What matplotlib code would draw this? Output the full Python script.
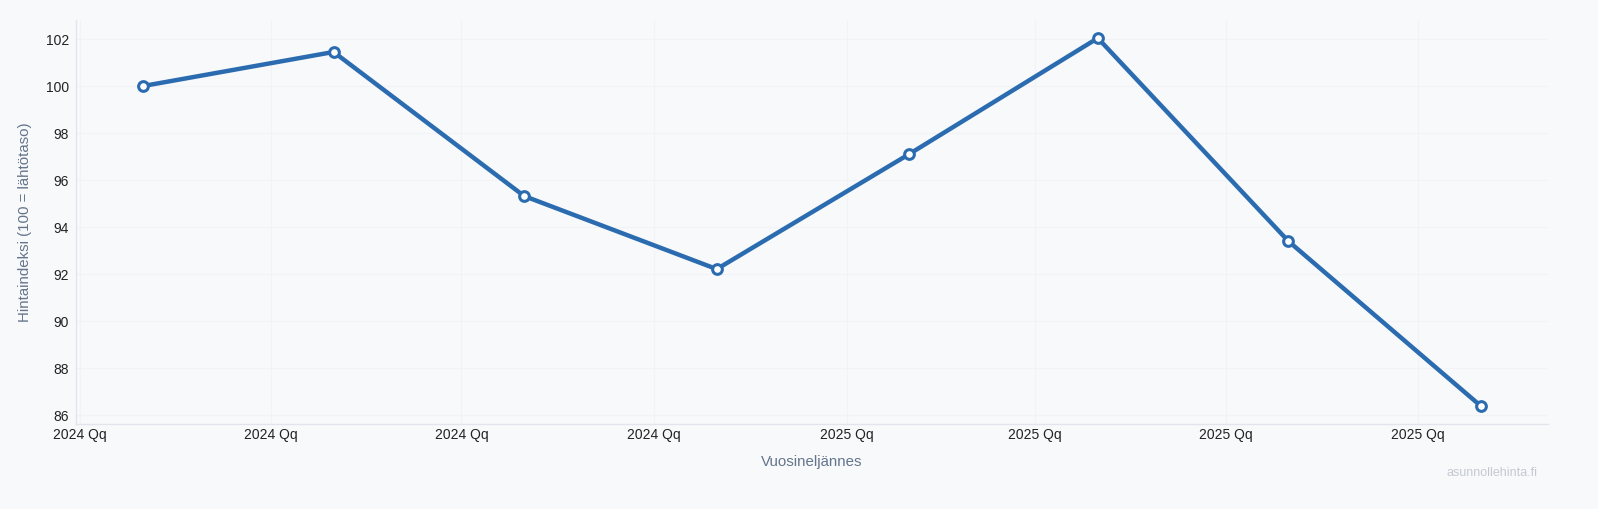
import datetime as dt
import matplotlib
matplotlib.use("Agg")
import matplotlib.pyplot as plt

# data
quarters = ["2024Q1", "2024Q2", "2024Q3", "2024Q4", "2025Q1", "2025Q2", "2025Q3", "2025Q4"]
index_values = [100.0, 101.45, 95.32, 92.21, 97.11, 102.04, 93.40, 86.38]
tick_labels = ["2024 Qq", "2024 Qq", "2024 Qq", "2024 Qq", "2025 Qq", "2025 Qq", "2025 Qq", "2025 Qq"]
y_ticks = [86, 88, 90, 92, 94, 96, 98, 100, 102]


def quarter_start(q):
    year, qn = int(q[:4]), int(q[-1])
    return dt.date(year, 3 * (qn - 1) + 1, 1)


tick_dates = [quarter_start(q) for q in quarters]
point_dates = [d + dt.timedelta(days=30) for d in tick_dates]

plt.rcParams["font.family"] = ["Liberation Sans", "DejaVu Sans"]
bg = "#f8f9fb"
line_color = "#2b6cb0"

fig = plt.figure(figsize=(15.98, 5.09), dpi=100, facecolor=bg)
ax = fig.add_axes([0.0476, 0.167, 0.9211, 0.7937], facecolor=bg)

ax.plot(point_dates, index_values, color=line_color, lw=3.2, marker="o", ms=7,
        mfc="white", mec=line_color, mew=2.2, zorder=3, solid_capstyle="round")

ax.set_xlim(dt.date(2023, 12, 30), dt.date(2025, 12, 2))
ax.set_ylim(85.62, 102.81)
ax.set_xticks(tick_dates)
ax.set_xticklabels(tick_labels)
ax.set_yticks(y_ticks)

ax.grid(True, color="#f1f3f6", lw=0.8)
ax.set_axisbelow(True)
for side in ["top", "right"]:
    ax.spines[side].set_visible(False)
for side in ["left", "bottom"]:
    ax.spines[side].set_color("#e2e6ec")
    ax.spines[side].set_linewidth(1)

ax.tick_params(axis="both", length=0, labelsize=10, colors="#222222")
ax.tick_params(axis="x", pad=3)
ax.tick_params(axis="y", pad=5)

ax.set_xlabel("Vuosineljännes", fontsize=10.8, color="#64748b", labelpad=9)
ax.set_ylabel("Hintaindeksi (100 = lähtötaso)", fontsize=10.8, color="#64748b", labelpad=10)

fig.text(0.962, 0.058, "asunnollehinta.fi", ha="right", va="bottom",
         fontsize=9, color="#c4c9d1")

fig.savefig("out.png", dpi=100, facecolor=bg)
